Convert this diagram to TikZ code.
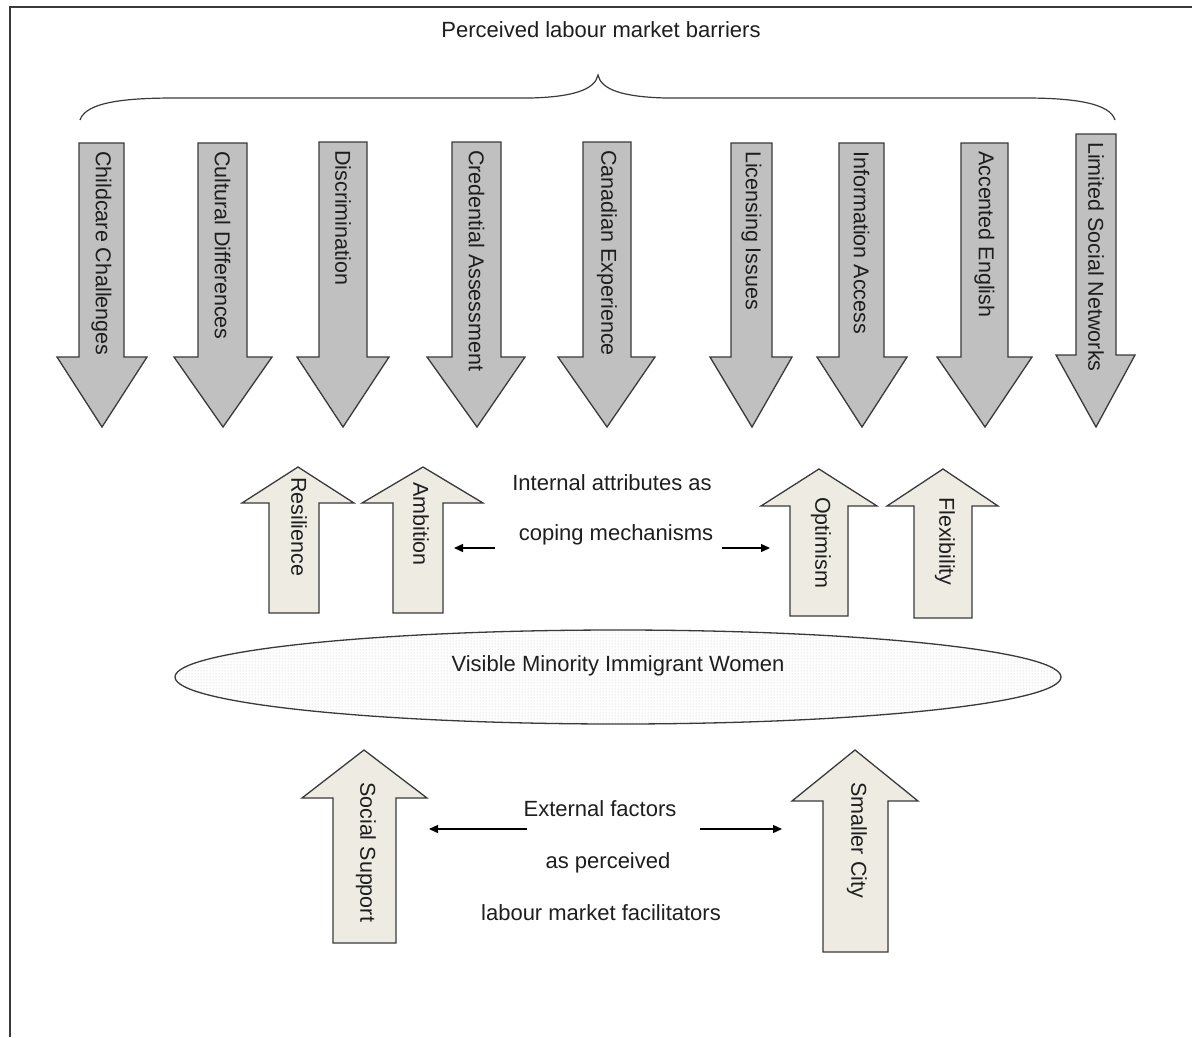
\documentclass[tikz,border=0pt]{standalone}
\usepackage{fontspec}
\setmainfont{Liberation Sans}
\usetikzlibrary{arrows.meta,patterns}
\definecolor{txt}{HTML}{1E1E1E}
\definecolor{dnfill}{HTML}{C0C0C0}
\definecolor{upfill}{HTML}{EEECE2}
\definecolor{edge}{HTML}{3A3A3A}
\tikzset{
  downarr/.style={draw=edge, fill=dnfill, line width=1.3pt, line join=miter},
  uparr/.style={draw=edge, fill=upfill, line width=1.3pt, line join=miter},
  lbl/.style={rotate=-90, anchor=west, inner sep=0pt, text=txt, font=\fontsize{21.5}{24}\selectfont},
  plain/.style={anchor=base, inner sep=0pt, text=txt, font=\fontsize{22}{26}\selectfont},
  conn/.style={-{Triangle[length=9pt,width=8pt]}, line width=1.3pt, draw=black},
}
\newcommand{\dnarr}[9]{%
  \draw[downarr] (#2,#4) -- (#3,#4) -- (#3,#7) -- (#6,#7) -- (#8,427) -- (#5,#7) -- (#2,#7) -- cycle;
  \node[lbl] (#1) at ({(#2+#3)/2},#4+8) {#9};}
\begin{document}
\begin{tikzpicture}[x=1pt,y=-1pt]
\useasboundingbox (0,0) rectangle (1192,1037);
\fill[white] (0,0) rectangle (1192,1037);
\draw[line width=2pt, edge] (1192,7) -- (10,7) -- (10,1037);

% title and brace
\node[plain] (title) at (601,37) {Perceived labour market barriers};
\draw[line width=1.2pt, edge] (80,120) .. controls (86,102) and (125,98) .. (175,98)
  -- (530,98) .. controls (572,97) and (595,90) .. (598,75)
  .. controls (601,90) and (624,97) .. (666,98)
  -- (1025,98) .. controls (1078,98) and (1110,104) .. (1115,120);

% barriers
\dnarr{b1}{79}{124}{143}{57}{147}{357}{102}{Childcare Challenges}
\dnarr{b2}{198}{247}{143}{174}{272}{357}{223}{Cultural Differences}
\dnarr{b3}{319}{367}{142}{297}{389}{357}{343}{Discrimination}
\dnarr{b4}{452}{501}{142}{427}{525}{357}{477}{Credential Assessment}
\dnarr{b5}{583}{631}{142}{558}{655}{357}{607}{Canadian Experience}
\dnarr{b6}{731}{772}{143}{710}{792}{357}{752}{Licensing Issues}
\dnarr{b7}{839}{884}{143}{817}{907}{357}{862}{Information Access}
\dnarr{b8}{961}{1008}{143}{937}{1032}{357}{985}{Accented English}
\dnarr{b9}{1076}{1116}{134}{1056}{1135}{355}{1096}{Limited Social Networks}

% internal attributes
\draw[uparr] (269,613) -- (269,503) -- (242,503) -- (298,467) -- (354,503) -- (319,503) -- (319,613) -- cycle;
\node[lbl] (res) at (299,477) {Resilience};
\draw[uparr] (393,613) -- (393,503) -- (362,503) -- (423,467) -- (483,503) -- (443,503) -- (443,613) -- cycle;
\node[lbl] (amb) at (421,482) {Ambition};
\draw[uparr] (790,616) -- (790,506) -- (761,506) -- (819,469) -- (877,506) -- (848,506) -- (848,616) -- cycle;
\node[lbl] (opt) at (821,497) {Optimism};
\draw[uparr] (914,618) -- (914,506) -- (887,506) -- (943,469) -- (998,506) -- (972,506) -- (972,618) -- cycle;
\node[lbl] (flex) at (945,497) {Flexibility};

\node[plain] (int1) at (612,490) {Internal attributes as};
\node[plain] (int2) at (616,540) {coping mechanisms};
\coordinate (ia) at (495,548); \coordinate (iaE) at (454,548);
\coordinate (ib) at (722,548); \coordinate (ibE) at (770,548);
\draw[conn] (ia) -- (iaE);
\draw[conn] (ib) -- (ibE);

% centre ellipse
\draw[line width=1.3pt, edge, preaction={fill=white}, pattern=dots, pattern color=gray!45]
  (618,677) ellipse [x radius=443, y radius=47];
\node[plain] (vmw) at (618,671) {Visible Minority Immigrant Women};

% external factors
\draw[uparr] (333,943) -- (333,798) -- (302,798) -- (364,750) -- (427,798) -- (396,798) -- (396,943) -- cycle;
\node[lbl] (soc) at (366,782) {Social Support};
\draw[uparr] (823,952) -- (823,801) -- (792,801) -- (855,750) -- (918,801) -- (888,801) -- (888,952) -- cycle;
\node[lbl] (city) at (857,782) {Smaller City};

\node[plain] (ext1) at (600,816) {External factors};
\node[plain] (ext2) at (608,868) {as perceived};
\node[plain] (ext3) at (601,920) {labour market facilitators};
\coordinate (ea) at (527,829); \coordinate (eaE) at (429,829);
\coordinate (eb) at (700,829); \coordinate (ebE) at (782,829);
\draw[conn] (ea) -- (eaE);
\draw[conn] (eb) -- (ebE);
\end{tikzpicture}
\end{document}
